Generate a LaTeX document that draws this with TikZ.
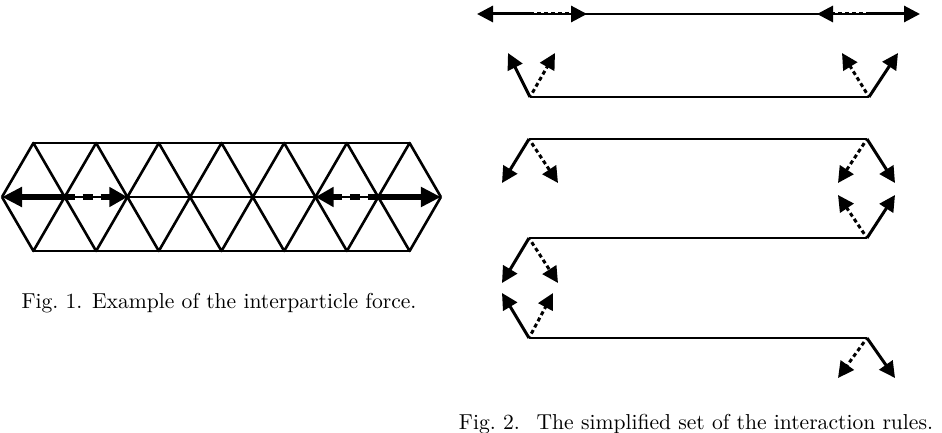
\documentclass[tikz,border=0pt]{standalone}
\usetikzlibrary{arrows.meta}
\begin{document}
\begin{tikzpicture}[x=0.5pt,y=-0.5pt,
  lat/.style={line width=1.3pt},
  bigsolid/.style={line width=3.2pt,-{Triangle[length=10pt,width=9.5pt]}},
  bigdash/.style={line width=3.2pt,dash pattern=on 5pt off 4pt,-{Triangle[length=9pt,width=9.5pt]}},
  pair/.style={line width=1.4pt},
  toppair/.style={line width=1.1pt},
  sarr/.style={line width=1.5pt,-{Triangle[length=8pt,width=8pt]}},
  darr/.style={line width=1.5pt,dash pattern=on 2pt off 1.5pt,dash phase=1pt,-{Triangle[length=8pt,width=8pt]}},
  captext/.style={font=\fontsize{10.8}{12.8}\selectfont,anchor=base,inner sep=0pt}
]
\useasboundingbox (0,0) rectangle (942,433);
% ---- Fig. 1 lattice ----
\foreach \k in {0,...,7} \coordinate (m\k) at ({2+62.7*\k},197);
\foreach \k in {0,...,6} {
  \coordinate (t\k) at ({33.4+62.7*\k},143);
  \coordinate (b\k) at ({33.4+62.7*\k},251);
}
\draw[lat] (t0) -- (t6);
\draw[lat] (b0) -- (b6);
\draw[lat] (m0) -- (m7);
\foreach \k [evaluate=\k as \kn using int(\k+1)] in {0,...,6} {
  \draw[lat,line join=round] (m\k) -- (t\k) -- (m\kn);
  \draw[lat,line join=round] (m\k) -- (b\k) -- (m\kn);
}
\draw[bigsolid] (m1) -- (m0);
\draw[bigdash] (m1) -- (m2);
\draw[bigsolid] (m6) -- (m7);
\draw[bigdash] (m6) -- (m5);
\node[captext] (cap1) at (219,308) {Fig.\ 1. Example of the interparticle force.};
% ---- Fig. 2 ----
% row A
\coordinate (aL) at (532,14); \coordinate (aR) at (868,14);
\coordinate (aL1) at (477,14); \coordinate (aL2) at (587,14);
\coordinate (aR1) at (817,14); \coordinate (aR2) at (920,14);
\draw[toppair] (aL) -- (aR);
\draw[sarr] (aL) -- (aL1);
\draw[darr] (aL) -- (aL2);
\draw[darr] (aR) -- (aR1);
\draw[sarr] (aR) -- (aR2);
% row B
\coordinate (bL) at (530,97); \coordinate (bR) at (869,97);
\draw[pair] (bL) -- (bR);
\coordinate (bL1) at (508,53); \coordinate (bL2) at (555,53);
\coordinate (bR1) at (842,53); \coordinate (bR2) at (898,53);
\draw[sarr] (bL) -- (bL1);
\draw[darr] (bL) -- (bL2);
\draw[darr] (bR) -- (bR1);
\draw[sarr] (bR) -- (bR2);
% row C
\coordinate (cL) at (529,139); \coordinate (cR) at (867,139);
\draw[pair] (cL) -- (cR);
\coordinate (cL1) at (502,183); \coordinate (cL2) at (558,183);
\coordinate (cR1) at (838,183); \coordinate (cR2) at (895,183);
\draw[sarr] (cL) -- (cL1);
\draw[darr] (cL) -- (cL2);
\draw[darr] (cR) -- (cR1);
\draw[sarr] (cR) -- (cR2);
% row D
\coordinate (dL) at (529,238); \coordinate (dR) at (867,238);
\draw[pair] (dL) -- (dR);
\coordinate (dL1) at (502,283); \coordinate (dL2) at (558,283);
\coordinate (dR1) at (838,195); \coordinate (dR2) at (895,195);
\draw[sarr] (dL) -- (dL1);
\draw[darr] (dL) -- (dL2);
\draw[darr] (dR) -- (dR1);
\draw[sarr] (dR) -- (dR2);
% row E
\coordinate (eL) at (529,338); \coordinate (eR) at (867,338);
\draw[pair] (eL) -- (eR);
\coordinate (eL1) at (502,293); \coordinate (eL2) at (553,293);
\coordinate (eR1) at (838,378); \coordinate (eR2) at (895,378);
\draw[sarr] (eL) -- (eL1);
\draw[darr] (eL) -- (eL2);
\draw[darr] (eR) -- (eR1);
\draw[sarr] (eR) -- (eR2);
\node[captext] (cap2) at (696,429) {Fig.\ 2. \ The simplified set of the interaction rules.};
\end{tikzpicture}
\end{document}
